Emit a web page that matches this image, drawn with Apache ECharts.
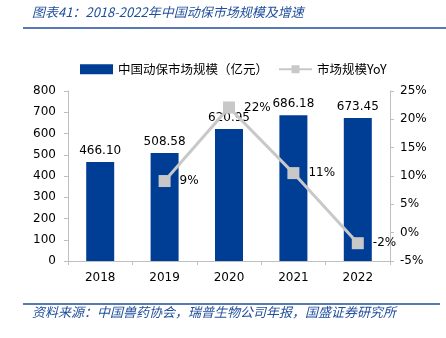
<!DOCTYPE html>
<html>
<head>
<meta charset="utf-8">
<script src="https://cdn.jsdelivr.net/npm/echarts@6/dist/echarts.min.js"></script>
<style>
  html, body { margin: 0; padding: 0; background: #fff; }
  #chart { width: 446px; height: 338px; }
</style>
</head>
<body>
<div id="chart"></div>
<script>
// Market size of China's animal health industry and its growth rate
const years = ['2018', '2019', '2020', '2021', '2022'];
const marketSize = [466.10, 508.58, 620.95, 686.18, 673.45];   // 亿元
const yoyGrowth = [null, 9.11, 22.09, 10.51, -1.86];            // %
const yoyLabels = ['', '9%', '22%', '11%', '-2%'];

const titleText = '图表41：2018-2022年中国动保市场规模及增速';
const sourceText = '资料来源：中国兽药协会，瑞普生物公司年报，国盛证券研究所';

const blue = '#003d94';
const gray = '#c8c8c8';
const numFont = 'DejaVu Sans';
const cjkFont = 'Noto Sans CJK SC';

const chart = echarts.init(document.getElementById('chart'), null, { renderer: 'canvas' });

chart.setOption({
  animation: false,
  backgroundColor: '#fff',
  textStyle: { fontFamily: numFont },
  graphic: [
    {
      type: 'text', left: 32, top: 6,
      style: { text: titleText, fill: '#1f4e9c', font: 'italic 13px "Noto Sans CJK SC"' }
    },
    {
      type: 'line', shape: { x1: 23, y1: 28, x2: 446, y2: 28 },
      style: { stroke: '#1f4e9c', lineWidth: 1.5 }
    },
    {
      type: 'line', shape: { x1: 23, y1: 304, x2: 440, y2: 304 },
      style: { stroke: '#1f4e9c', lineWidth: 1.5 }
    },
    {
      type: 'text', left: 32, top: 306,
      style: { text: sourceText, fill: '#1f4e9c', font: 'italic 13px "Noto Sans CJK SC"' }
    }
  ],
  legend: {
    top: 58, left: 75,
    itemGap: 10,
    itemWidth: 33, itemHeight: 10,
    textStyle: { fontFamily: cjkFont, fontSize: 12.5, color: '#000' },
    data: [
      { name: '中国动保市场规模（亿元）', icon: 'rect' },
      { name: '市场规模YoY' }
    ]
  },
  grid: { left: 68, right: 56, top: 91, bottom: 77 },
  xAxis: {
    type: 'category',
    data: years,
    axisLine: { lineStyle: { color: '#bfbfbf' } },
    axisTick: { show: true, length: 4, lineStyle: { color: '#bfbfbf' } },
    axisLabel: { color: '#000', fontSize: 12, margin: 11 }
  },
  yAxis: [
    {
      type: 'value', min: 0, max: 800, interval: 100,
      axisLine: { show: true, lineStyle: { color: '#bfbfbf' } },
      axisTick: { show: true, length: 4, lineStyle: { color: '#bfbfbf' } },
      splitLine: { show: false },
      axisLabel: { color: '#000', fontSize: 12, margin: 12 }
    },
    {
      type: 'value', min: -5, max: 25, interval: 5,
      axisLine: { show: true, lineStyle: { color: '#bfbfbf' } },
      axisTick: { show: true, length: 4, lineStyle: { color: '#bfbfbf' } },
      splitLine: { show: false },
      axisLabel: { color: '#000', fontSize: 12, margin: 10, formatter: '{value}%' }
    }
  ],
  series: [
    {
      name: '中国动保市场规模（亿元）',
      type: 'bar',
      data: marketSize,
      barWidth: 28,
      itemStyle: { color: blue },
      label: {
        show: true, position: 'top', distance: 5,
        color: '#000', fontSize: 12,
        formatter: p => p.value.toFixed(2)
      },
      z: 2
    },
    {
      name: '市场规模YoY',
      type: 'line',
      yAxisIndex: 1,
      data: yoyGrowth,
      symbol: 'rect',
      symbolSize: 12,
      lineStyle: { color: gray, width: 3 },
      itemStyle: { color: gray },
      label: {
        show: true, position: 'right', distance: 9,
        color: '#000', fontSize: 12,
        formatter: p => yoyLabels[p.dataIndex]
      },
      z: 3
    }
  ]
});
</script>
</body>
</html>
